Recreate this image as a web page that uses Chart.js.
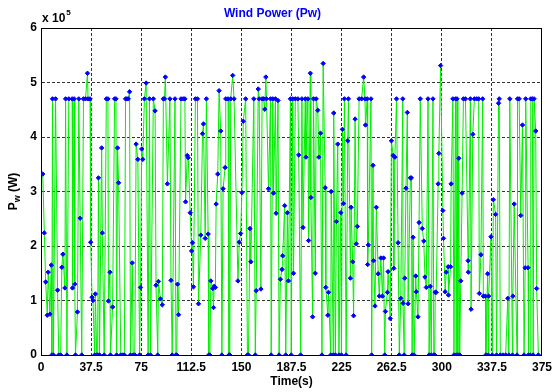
<!DOCTYPE html>
<html>
<head>
<meta charset="utf-8">
<script src="https://cdn.jsdelivr.net/npm/chart.js@4/dist/chart.umd.min.js"></script>
<style>
  html, body { margin: 0; padding: 0; background: #fff; }
  canvas { display: block; }
</style>
</head>
<body>
<canvas id="c" width="557" height="392"></canvas>
<script>
// Time (s) of each sample
const times = [
  1.3,2.5,3.5,4.7,5.4,6.7,7.7,8.1,8.6,9.3,10.9,12.4,13.3,14.7,15.6,16.4,17.9,18.4,19.4,20.8,
  23.3,23.6,24.8,25.3,25.8,27.3,28.3,29.3,30.5,31.8,33.3,34.8,35.2,36.7,37.2,38.2,38.9,40.2,40.7,41.7,
  42.4,43.0,43.8,45.4,45.9,47.3,48.9,50.1,50.5,51.6,52.0,53.6,55.1,56.1,56.6,57.3,58.1,59.7,61.1,62.4,
  63.3,64.3,65.3,66.3,67.0,68.3,69.0,70.2,71.2,72.5,73.8,74.5,75.4,76.2,77.4,78.7,80.2,81.2,82.0,84.1,
  85.4,86.1,87.4,87.9,89.4,90.8,91.6,92.4,93.1,94.6,96.5,97.3,98.2,100.3,101.0,101.6,102.2,103.0,104.8,106.5,
  107.7,108.2,109.5,110.2,111.7,112.7,113.4,114.1,115.6,117.1,117.9,119.6,120.9,121.6,122.9,123.8,125.1,125.6,126.4,127.1,
  128.6,129.1,129.6,130.5,131.1,132.3,133.3,134.5,135.4,136.3,137.8,138.3,140.0,140.7,141.3,142.0,143.5,144.5,147.4,148.4,
  149.4,150.4,151.4,153.2,154.5,155.3,156.4,157.1,159.3,160.4,161.1,162.6,163.3,164.6,165.5,166.6,167.5,168.3,168.8,170.3,
  171.8,172.3,173.5,174.0,175.5,176.0,177.4,178.2,179.2,180.4,180.9,182.4,183.2,184.4,185.2,186.7,187.3,188.4,189.0,190.4,
  192.3,192.9,194.4,195.3,196.1,197.8,198.3,199.8,200.3,201.6,202.0,203.3,204.0,205.3,206.0,207.2,208.0,209.2,210.3,211.2,
  212.7,213.2,214.7,215.2,216.9,217.2,218.8,219.1,220.4,221.1,222.1,223.0,224.4,224.9,225.6,226.4,227.1,228.4,229.6,230.1,
  231.6,232.1,233.3,234.0,235.1,236.0,236.8,238.1,240.0,241.5,242.5,242.9,244.2,244.5,245.0,247.0,247.5,248.5,248.9,250.0,
  251.0,252.4,253.2,254.4,255.6,256.4,257.3,257.8,259.3,259.8,261.4,262.3,263.6,264.1,264.9,266.1,267.3,268.2,269.3,270.8,
  271.0,271.8,272.3,273.2,274.2,274.8,276.5,277.2,277.8,278.5,279.3,280.5,280.9,282.2,283.0,283.9,285.4,286.5,287.4,288.4,
  289.7,290.5,291.4,292.1,293.4,294.0,294.7,295.1,295.8,297.3,297.8,299.1,300.8,301.3,302.5,303.3,304.8,305.0,306.6,307.0,
  308.3,309.1,310.3,310.8,311.4,312.0,312.7,313.4,314.2,315.2,316.2,317.7,319.7,319.9,321.4,321.9,323.2,324.4,326.1,327.6,
  328.1,329.3,330.6,331.1,332.6,333.0,334.3,334.8,335.1,336.8,337.8,338.6,340.3,341.0,342.5,343.0,343.8,345.7,347.8,349.4,
  350.2,350.9,352.9,353.2,354.2,356.3,356.7,357.9,359.1,360.4,361.6,362.4,362.8,364.6,364.9,366.2,366.6,367.8,368.4,369.1,
  370.3,371.0,372.3
];

// Wind power Pw, in units of 10^5 W (as on the axis)
const powerE5 = [
  3.32,2.24,1.34,0.73,1.52,0.75,1.65,0,4.7,0,4.7,1.19,0,0,1.61,1.85,1.23,4.7,0,4.7,
  4.7,1.23,4.7,1.30,0,0.79,4.7,2.51,0,4.7,4.7,5.17,4.7,4.7,2.07,1.06,1.00,0,1.12,0,
  0,3.25,0,3.80,2.24,0,4.7,4.7,0.99,1.52,0,0.88,4.7,4.7,0,3.80,3.16,0,0,0,
  4.7,4.7,4.7,4.83,0,1.69,0,0,3.87,3.59,0,1.24,3.78,3.59,4.7,4.99,0,4.7,0,4.7,
  4.48,1.28,0,1.35,1.03,0.92,4.7,4.7,5.10,3.14,4.7,1.37,0,4.7,0,0,1.30,0.74,4.7,4.7,
  4.7,2.81,3.66,3.62,2.61,1.91,2.06,1.25,4.7,4.7,0.94,2.20,4.06,4.24,2.14,4.7,2.22,0,0,1.36,
  1.22,0.87,1.26,1.24,2.77,3.32,4.85,4.11,0,3.05,3.44,4.7,4.7,0,0,4.7,5.13,4.7,1.36,2.07,
  2.23,2.98,4.29,4.7,0,0,2.32,1.71,4.7,0,1.18,4.88,4.7,1.21,4.7,4.7,4.51,5.10,4.7,3.05,
  4.7,0,4.7,2.97,4.7,2.60,4.67,0,1.39,1.57,1.82,2.74,0,2.61,1.36,4.7,0,4.7,1.50,4.7,
  4.7,3.67,0,4.7,2.34,4.7,3.63,4.7,2.10,5.17,2.89,0.70,4.7,1.50,4.7,4.49,3.63,4.07,0,5.35,
  3.07,1.24,0.73,1.15,0,3.00,0,4.44,0,2.45,3.87,0,2.61,0,4.14,2.78,4.7,0,3.93,4.7,
  1.41,2.71,1.71,0.72,4.33,2.04,2.36,4.7,4.7,5.10,4.7,4.22,4.7,1.66,2.02,4.7,0,3.48,1.73,0.90,
  2.71,1.49,1.08,1.78,1.08,1.78,0,0.80,1.15,1.53,0.67,3.93,3.66,1.59,3.63,4.7,2.06,0,1.04,4.7,
  0.95,0,1.41,3.06,4.45,0.94,3.25,3.25,0,2.16,0,1.45,1.16,0.70,2.43,4.7,2.32,2.09,1.43,1.24,
  4.7,0,1.26,0,4.7,0,0,1.15,1.15,3.14,3.70,5.31,2.65,2.14,1.16,1.52,1.62,1.10,1.62,3.14,
  4.7,0,4.7,0,4.7,0,3.61,0,1.36,2.97,4.7,4.7,1.73,1.52,4.7,0.84,4.05,4.7,4.7,4.7,
  1.13,1.84,4.7,1.08,1.08,0,1.49,0,1.08,2.17,0,2.85,2.58,0,4.62,4.7,0,0,0,1.04,
  0,4.7,0,1.08,2.77,0,4.7,4.7,2.56,4.22,0,1.60,4.7,1.60,0,0,4.7,4.7,0,4.7,
  4.11,1.22,0
];

const xTicks = [0, 37.5, 75, 112.5, 150, 187.5, 225, 262.5, 300, 337.5, 375];
const yTicks = [0, 1, 2, 3, 4, 5, 6];

const FONT = "'Liberation Sans', Arial, Helvetica, sans-serif";
Chart.defaults.font.family = FONT;
Chart.defaults.color = '#000';

const decor = {
  id: 'decor',
  afterDraw(chart) {
    const { ctx, chartArea: a } = chart;
    ctx.save();
    ctx.setLineDash([]);
    ctx.strokeStyle = '#000';
    ctx.lineWidth = 1;
    ctx.beginPath();
    ctx.moveTo(Math.round(a.left), Math.round(a.top) + 0.5);
    ctx.lineTo(Math.round(a.right), Math.round(a.top) + 0.5);
    ctx.moveTo(Math.round(a.right) - 0.5, Math.round(a.top));
    ctx.lineTo(Math.round(a.right) - 0.5, Math.round(a.bottom));
    ctx.stroke();

    // exponent label
    ctx.fillStyle = '#000';
    ctx.textAlign = 'left';
    ctx.textBaseline = 'alphabetic';
    ctx.font = 'bold 12px ' + FONT;
    const base = 'x 10';
    ctx.fillText(base, a.left + 1, a.top - 6);
    const w = ctx.measureText(base).width;
    ctx.font = 'bold 8px ' + FONT;
    ctx.fillText('5', a.left + 2 + w, a.top - 13);

    // y-axis title with subscript
    ctx.translate(13, (a.top + a.bottom) / 2);
    ctx.rotate(-Math.PI / 2);
    ctx.font = 'bold 12px ' + FONT;
    const wP = ctx.measureText('P').width;
    const wR = ctx.measureText(' (W)').width;
    ctx.font = 'bold 9px ' + FONT;
    const wW = ctx.measureText('w').width;
    let x = -(wP + wW + wR) / 2;
    ctx.font = 'bold 12px ' + FONT;
    ctx.fillText('P', x, 4);
    x += wP;
    ctx.font = 'bold 9px ' + FONT;
    ctx.fillText('w', x, 7);
    x += wW;
    ctx.font = 'bold 12px ' + FONT;
    ctx.fillText(' (W)', x, 4);
    ctx.restore();
  }
};

new Chart(document.getElementById('c'), {
  type: 'line',
  data: {
    datasets: [{
      data: times.map((t, i) => ({ x: t, y: powerE5[i] })),
      borderColor: '#00ee00',
      borderWidth: 1,
      pointStyle: 'rectRot',
      pointRadius: 2.2,
      pointBorderWidth: 1,
      pointBackgroundColor: '#0000ff',
      pointBorderColor: '#0000ff',
      tension: 0,
      fill: false
    }]
  },
  options: {
    responsive: false,
    animation: false,
    devicePixelRatio: 1,
    layout: { padding: { left: 0, right: 12, top: 0, bottom: 0 } },
    plugins: {
      legend: { display: false },
      tooltip: { enabled: false },
      title: {
        display: true,
        text: 'Wind Power (Pw)',
        color: '#0000ff',
        font: { size: 12, weight: 'bold', family: FONT },
        padding: { top: 6, bottom: 7.6 }
      }
    },
    scales: {
      x: {
        type: 'linear',
        min: 0,
        max: 375,
        z: 1,
        afterBuildTicks: s => { s.ticks = xTicks.map(v => ({ value: v })); },
        afterFit: s => { s.height = 37; },
        ticks: {
          autoSkip: false,
          maxRotation: 0,
          padding: 5,
          font: { size: 12, weight: 'bold' },
          callback: v => String(v)
        },
        grid: { color: '#333', lineWidth: 1, drawTicks: false },
        border: { display: true, color: '#000', width: 1, dash: [3, 2] },
        title: {
          display: true,
          text: 'Time(s)',
          font: { size: 12, weight: 'bold' },
          padding: { top: 0, bottom: 3 }
        }
      },
      y: {
        min: 0,
        max: 6,
        z: 1,
        afterBuildTicks: s => { s.ticks = yTicks.map(v => ({ value: v })); },
        afterFit: s => { s.width = 41; },
        ticks: {
          padding: 4,
          font: { size: 12, weight: 'bold' },
          callback: v => String(v)
        },
        grid: { color: '#333', lineWidth: 1, drawTicks: false },
        border: { display: true, color: '#000', width: 1, dash: [3, 2] }
      }
    }
  },
  plugins: [decor]
});
</script>
</body>
</html>
